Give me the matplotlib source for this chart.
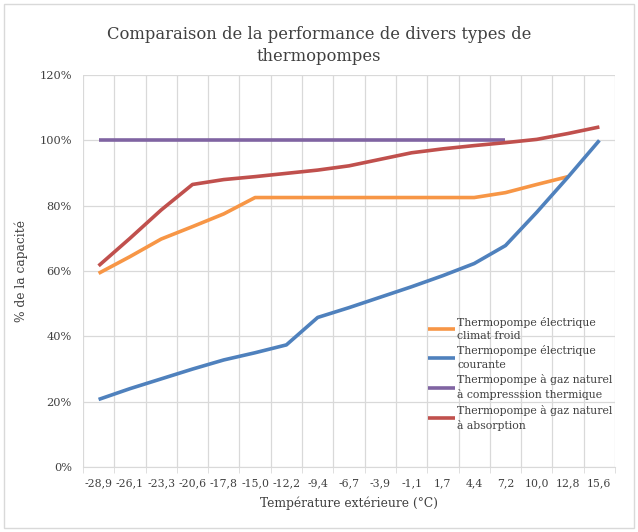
import matplotlib
matplotlib.use("Agg")
import matplotlib.pyplot as plt
from matplotlib.patches import Rectangle

# Températures (catégories de l'axe X)
temperatures = ["-28,9", "-26,1", "-23,3", "-20,6", "-17,8", "-15,0", "-12,2", "-9,4",
                "-6,7", "-3,9", "-1,1", "1,7", "4,4", "7,2", "10,0", "12,8", "15,6"]

# % de la capacité
climat_froid = [59.3, 64.4, 69.8, 73.6, 77.5, 82.5, 82.5, 82.5, 82.5, 82.5, 82.5, 82.5,
                82.5, 84.0, 86.5, 88.9]
courante = [20.7, 24.0, 27.0, 30.0, 32.8, 35.0, 37.4, 45.8, 48.8, 52.0, 55.2, 58.6,
            62.3, 67.8, 78.0, 88.8, 100.0]
gaz_compression = [100, 100, 100, 100, 100, 100, 100, 100, 100, 100, 100, 100, 100, 100]
gaz_absorption = [61.6, 70.0, 78.7, 86.5, 88.0, 88.9, 89.9, 90.9, 92.2, 94.2, 96.2, 97.4,
                  98.4, 99.3, 100.3, 102.1, 104.1]

labels = ["Thermopompe électrique\nclimat froid",
          "Thermopompe électrique\ncourante",
          "Thermopompe à gaz naturel\nà compresssion thermique",
          "Thermopompe à gaz naturel\nà absorption"]
y_ticks = [0, 20, 40, 60, 80, 100, 120]

plt.rcParams['font.family'] = ['DejaVu Serif']
txt = "#404040"
grid = "#D9D9D9"

fig = plt.figure(figsize=(6.38, 5.32), dpi=100)
ax = fig.add_axes([0.130, 0.122, 0.834, 0.737])

series = [(climat_froid, "#F79646"), (courante, "#4F81BD"),
          (gaz_compression, "#8064A2"), (gaz_absorption, "#C0504D")]
for (vals, col), lab in zip(series, labels):
    ax.plot(range(len(vals)), vals, color=col, lw=2.6, label=lab,
            solid_capstyle="butt", solid_joinstyle="round")

ax.set_xlim(-0.5, len(temperatures) - 0.5)
ax.set_ylim(0, 120)
ax.set_xticks(range(len(temperatures)))
ax.set_xticklabels(temperatures)
ax.set_xticks([i - 0.5 for i in range(len(temperatures) + 1)], minor=True)
ax.set_yticks(y_ticks)
ax.set_yticklabels([f"{v}%" for v in y_ticks])
ax.tick_params(axis="x", which="major", length=0, pad=8, labelsize=7.8, colors=txt)
ax.tick_params(axis="x", which="minor", length=4, color=grid)
ax.tick_params(axis="y", length=0, pad=8, labelsize=8.2, colors=txt)
ax.grid(True, which="minor", axis="x", color=grid, lw=0.9)
ax.grid(True, which="major", axis="y", color=grid, lw=0.9)
ax.set_axisbelow(True)
for s in ["top", "right", "left"]:
    ax.spines[s].set_visible(False)
ax.spines["bottom"].set_color(grid)

ax.set_xlabel("Température extérieure (°C)", fontsize=8.8, color=txt, labelpad=6)
ax.set_ylabel("% de la capacité", fontsize=8.8, color=txt, labelpad=8)

leg = ax.legend(loc="upper left", bbox_to_anchor=(0.64, 0.395), frameon=False,
                fontsize=7.8, handlelength=2.5, handletextpad=0.2, labelspacing=0.4,
                borderaxespad=0)
for t in leg.get_texts():
    t.set_color(txt)
    t.set_linespacing(1.45)

fig.text(0.5, 0.952, "Comparaison de la performance de divers types de\nthermopompes",
         ha="center", va="top", fontsize=11.8, color=txt, linespacing=1.45)

fig.patches.append(Rectangle((0.006, 0.008), 0.988, 0.984, transform=fig.transFigure,
                             fill=False, edgecolor=grid, lw=1))

fig.savefig("out.png", dpi=100)
